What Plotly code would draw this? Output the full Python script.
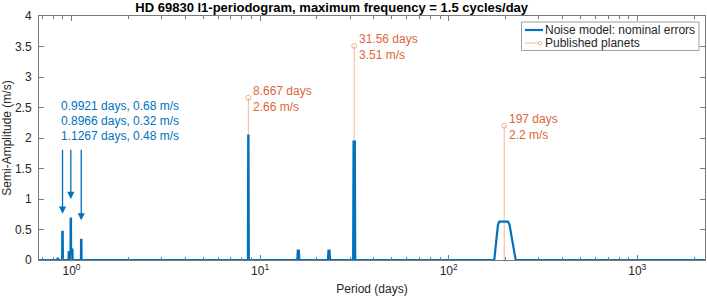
import plotly.graph_objects as go
import math

# ---------------- data ----------------
# l1-periodogram curve (period in days, semi-amplitude in m/s)
curve_period = [0.6727,
                0.842, 0.844, 0.847, 0.849,
                0.892, 0.8945, 0.8985, 0.901,
                0.965, 0.967, 0.973, 0.975,
                0.988, 0.990, 0.994, 0.996,
                1.006, 1.008, 1.012, 1.014,
                1.122, 1.1245, 1.129, 1.131,
                8.62, 8.655, 8.68, 8.715,
                15.75, 15.85, 16.05, 16.15,
                22.9, 23.05, 23.35, 23.5,
                31.15, 31.3, 31.8, 31.95,
                174.5, 179.3, 182.6, 185.5, 206.3, 210.1, 215.3, 226.6,
                2286]
curve_amp = [0,
             0, 0.025, 0.025, 0,
             0, 0.46, 0.46, 0,
             0, 0.13, 0.13, 0,
             0, 0.68, 0.68, 0,
             0, 0.17, 0.17, 0,
             0, 0.33, 0.33, 0,
             0, 2.04, 2.04, 0,
             0, 0.155, 0.155, 0,
             0, 0.155, 0.155, 0,
             0, 1.94, 1.94, 0,
             0, 0.35, 0.58, 0.63, 0.63, 0.58, 0.4, 0,
             0]

# published planets
planet_period = [8.667, 31.56, 197]
planet_amp = [2.66, 3.51, 2.2]
planet_period_labels = ["8.667 days", "31.56 days", "197 days"]
planet_amp_labels = ["2.66 m/s", "3.51 m/s", "2.2 m/s"]

# blue peak annotations
peak_text = ["0.9921 days, 0.68 m/s", "0.8966 days, 0.32 m/s", "1.1267 days, 0.48 m/s"]
peak_text_y = [2.52, 2.28, 2.04]
arrow_period = [0.8966, 0.9921, 1.1267]
arrow_tip = [0.76, 1.0, 0.65]
arrow_top = 1.83

x_range = [0.6727, 2286]
y_ticks = [0, 0.5, 1, 1.5, 2, 2.5, 3, 3.5, 4]
y_tick_labels = ["0", "0.5", "1", "1.5", "2", "2.5", "3", "3.5", "4"]
x_ticks = [1, 10, 100, 1000]
x_tick_labels = ["10<sup>0</sup>", "10<sup>1</sup>", "10<sup>2</sup>", "10<sup>3</sup>"]
x_minor = [0.7, 0.8, 0.9] + [m * 10 ** d for d in range(0, 4) for m in range(2, 10)]

BLUE = "#0072BD"
ORANGE_TXT = "#E0643A"
ORANGE_LINE = "rgba(232,120,80,0.55)"
FONT = "Liberation Sans, Arial, Helvetica, sans-serif"
AX = "#262626"
LINE = "#7a7a7a"

fig = go.Figure()

# stems of published planets (drawn first, underneath)
sx, sy = [], []
for p, a in zip(planet_period, planet_amp):
    sx += [p, p, None]
    sy += [0, a, None]
fig.add_trace(go.Scatter(x=sx, y=sy, mode="lines",
                         line=dict(color=ORANGE_LINE, width=1),
                         showlegend=False, hoverinfo="skip"))
fig.add_trace(go.Scatter(x=planet_period, y=planet_amp, mode="markers",
                         marker=dict(symbol="circle-open", size=5,
                                     color=ORANGE_LINE, line=dict(width=1, color=ORANGE_LINE)),
                         showlegend=False))

# periodogram
fig.add_trace(go.Scatter(x=curve_period, y=curve_amp, mode="lines",
                         line=dict(color=BLUE, width=2.2),
                         showlegend=False))

annotations = []
for p, a, t1, t2 in zip(planet_period, planet_amp, planet_period_labels, planet_amp_labels):
    annotations.append(dict(x=math.log10(p), y=a, xref="x", yref="y",
                            text=t1 + "<br>" + t2, showarrow=False,
                            xanchor="left", yanchor="middle", align="left",
                            xshift=3, yshift=-1,
                            font=dict(family=FONT, size=12, color=ORANGE_TXT)))

for t, yy in zip(peak_text, peak_text_y):
    annotations.append(dict(x=math.log10(0.880), y=yy, xref="x", yref="y",
                            text=t, showarrow=False, xanchor="left", yanchor="middle",
                            xshift=-2,
                            font=dict(family=FONT, size=12, color=BLUE)))

for p, tip in zip(arrow_period, arrow_tip):
    annotations.append(dict(x=math.log10(p), y=tip, xref="x", yref="y",
                            ax=math.log10(p), ay=arrow_top, axref="x", ayref="y",
                            text="", showarrow=True, arrowhead=2, arrowsize=1.1,
                            arrowwidth=1.3, arrowcolor=BLUE))

# manual legend (in pixel-ish paper coordinates)
W, H = 707, 298
ml, mr, mt, mb = 39, 2, 16, 38
pw, ph = W - ml - mr, H - mt - mb


def px(x):
    return (x - ml) / pw


def py(y):
    return 1 - (y - mt) / ph


shapes = [
    dict(type="rect", xref="paper", yref="paper", x0=px(521.5), x1=px(699), y0=py(22), y1=py(50.5),
         line=dict(color="#a0a0a0", width=1), fillcolor="white", layer="above"),
    dict(type="line", xref="paper", yref="paper", x0=px(525), x1=px(543), y0=py(30), y1=py(30),
         line=dict(color=BLUE, width=2.2), layer="above"),
    dict(type="line", xref="paper", yref="paper", x0=px(525), x1=px(539), y0=py(43), y1=py(43),
         line=dict(color=ORANGE_LINE, width=1), layer="above"),
    dict(type="circle", xref="paper", yref="paper", x0=px(538.3), x1=px(541.7), y0=py(41.3), y1=py(44.7),
         line=dict(color=ORANGE_LINE, width=1), fillcolor="white", layer="above"),
]
annotations.append(dict(x=px(543), y=py(30), xref="paper", yref="paper", text="Noise model: nominal errors",
                        showarrow=False, xanchor="left", yanchor="middle",
                        font=dict(family=FONT, size=12, color=AX)))
annotations.append(dict(x=px(543), y=py(43), xref="paper", yref="paper", text="Published planets",
                        showarrow=False, xanchor="left", yanchor="middle",
                        font=dict(family=FONT, size=12, color=AX)))

fig.update_layout(
    width=W, height=H,
    margin=dict(l=ml, r=mr, t=mt, b=mb, pad=0, autoexpand=False),
    plot_bgcolor="white", paper_bgcolor="white",
    font=dict(family=FONT, size=12, color=AX),
    title=dict(text="<b>HD 69830 l1-periodogram, maximum frequency = 1.5 cycles/day</b>",
               x=331.7 / W, xref="container", xanchor="center",
               y=1 - 7.5 / H, yref="container", yanchor="middle",
               font=dict(family=FONT, size=13, color="#000000")),
    showlegend=False,
    annotations=annotations,
    shapes=shapes,
)

fig.update_xaxes(type="log", range=[math.log10(x_range[0]), math.log10(x_range[1])],
                 automargin=False,
                 showgrid=False, zeroline=False,
                 showline=True, linecolor=LINE, linewidth=1, mirror="ticks",
                 ticks="inside", ticklen=5, tickcolor=LINE, tickwidth=1,
                 tickmode="array", tickvals=x_ticks, ticktext=x_tick_labels,
                 tickfont=dict(family=FONT, size=12, color=AX),
                 minor=dict(tickmode="array", tickvals=x_minor, ticks="inside", ticklen=3,
                            tickcolor=LINE, tickwidth=1, showgrid=False),
                 title=dict(text="Period (days)", font=dict(family=FONT, size=12, color=AX), standoff=7))

fig.update_yaxes(range=[0, 4], automargin=False, showgrid=False, zeroline=False,
                 showline=True, linecolor=LINE, linewidth=1, mirror="ticks",
                 ticks="inside", ticklen=5, tickcolor=LINE, tickwidth=1,
                 tickmode="array", tickvals=y_ticks, ticktext=y_tick_labels,
                 tickfont=dict(family=FONT, size=12, color=AX),
                 ticklabelstandoff=4,
                 title=dict(text="Semi-Amplitude (m/s)", font=dict(family=FONT, size=12, color=AX), standoff=3))

fig.write_html("out.html", config={"displayModeBar": False},
               post_script="document.body.style.margin='0px';")
